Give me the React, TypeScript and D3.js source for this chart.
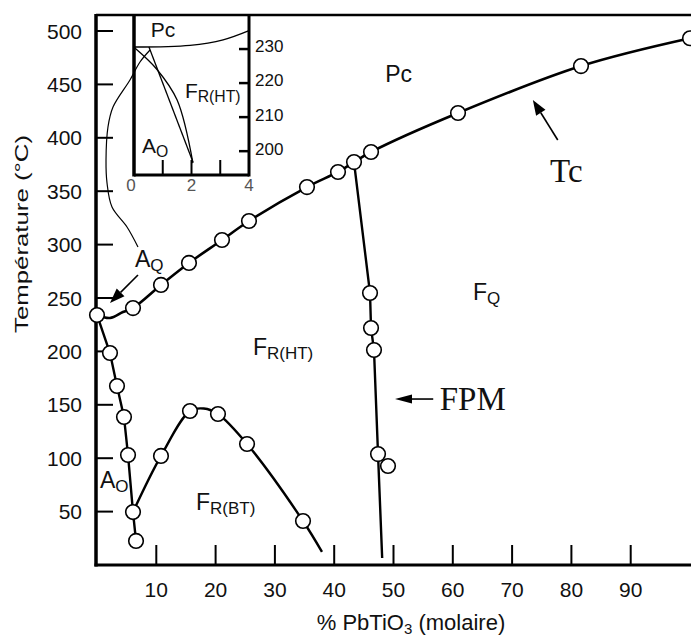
import React from 'react';
import * as d3 from 'd3';

type P = [number, number];

// ---- axis ticks ----
const xTicks = [10, 20, 30, 40, 50, 60, 70, 80, 90];
const yTicks = [50, 100, 150, 200, 250, 300, 350, 400, 450, 500];
const insetXLabels = [0, 2, 4];
const insetXMinor = [1, 2, 3];
const insetYTicks = [200, 210, 220, 230];

// ---- main data (% PbTiO3, °C) ----
const tcPoints: P[] = [
  [0, 234.1], [6.07, 240.6], [10.79, 262.2], [15.51, 282.8], [21.08, 304.3],
  [25.63, 322.1], [35.41, 353.9], [40.64, 368.0], [43.34, 377.3], [46.21, 386.7],
  [60.88, 423.2], [81.62, 467.2], [100, 493.2],
];
const tcLine: P[] = [
  [0, 234.1], [2.19, 231.3], [4.38, 236.9], [6.07, 240.6], [10.79, 262.2],
  [15.51, 282.8], [21.08, 304.3], [25.63, 322.1], [35.41, 353.9], [40.64, 368.0],
  [43.34, 377.3], [46.21, 386.7], [60.88, 423.2], [81.62, 467.2], [100, 493.2],
];
const fpmPoints: P[] = [
  [46.04, 254.7], [46.21, 221.9], [46.71, 201.3], [47.39, 103.9], [49.07, 92.7],
];
const fpmLine: P[] = [
  [43.34, 377.3], [46.04, 254.7], [46.21, 221.9], [46.71, 201.3], [47.39, 103.9], [48.09, 6.6],
];
const aoPoints: P[] = [
  [2.19, 198.5], [3.37, 167.6], [4.55, 138.6], [5.23, 103.0], [6.07, 49.6], [6.58, 22.5],
];
const aoLine: P[] = [
  [0, 234.1], [2.19, 198.5], [3.37, 167.6], [4.55, 138.6], [5.23, 103.0], [6.07, 49.6], [6.58, 22.5],
];
const btPoints: P[] = [
  [10.79, 102.1], [15.68, 144.2], [20.4, 141.4], [25.3, 113.3], [34.74, 41.2],
];
const btLine: P[] = [
  [6.07, 49.6], [10.79, 102.1], [15.68, 144.2], [18, 146.5], [20.4, 141.4],
  [25.3, 113.3], [34.74, 41.2], [37.94, 12.2],
];
const leaderCurve: P[] = [
  [8.94, 482.2], [7.25, 471], [5.56, 454.1], [2.7, 428.8], [1.85, 410.1], [1.52, 379.2],
  [1.69, 357.7], [2.53, 335.2], [5.06, 316.5], [6.91, 297.8],
];

// ---- inset data (% PbTiO3 0-4, °C 193-240) ----
const insetPc: P[] = [[0, 230.6], [1.95, 231.1], [3.1, 232.7], [4, 235.4]];
const insetLineA: P[] = [[0.03, 230.3], [0.8, 224.0], [1.5, 215.0], [2.05, 196.5]];
const insetLineB: P[] = [[0.52, 230.6], [2.05, 196.8]];

// ---- annotations ----
const arrows: { from: P; to: P }[] = [
  { from: [77.7, 397.9], to: [73.5, 435.4] },
  { from: [56.7, 155.4], to: [50.25, 155.4] },
  { from: [6.91, 271.5], to: [2.19, 245.3] },
];
const mainLabels: { at: P; main: string; sub?: string }[] = [
  { at: [48.6, 452.2], main: 'Pc' },
  { at: [63.4, 248.1], main: 'F', sub: 'Q' },
  { at: [26.3, 196.6], main: 'F', sub: 'R(HT)' },
  { at: [0.5, 72.1], main: 'A', sub: 'O' },
  { at: [16.7, 51.5], main: 'F', sub: 'R(BT)' },
  { at: [6.4, 279], main: 'A', sub: 'Q' },
];
const serifLabels: { at: P; text: string }[] = [
  { at: [76.4, 358.6], text: 'Tc' },
  { at: [57.8, 145.1], text: 'FPM' },
];
const insetLabels: { at: P; main: string; sub?: string; size: number }[] = [
  { at: [0.58, 233.4], main: 'Pc', size: 21 },
  { at: [1.77, 215.6], main: 'F', sub: 'R(HT)', size: 21 },
  { at: [0.28, 199.5], main: 'A', sub: 'O', size: 21 },
];

const SANS = '"Liberation Sans", Arial, Helvetica, sans-serif';
const SERIF = '"Liberation Serif", "Times New Roman", serif';

export default function App() {
  const W = 691, H = 639;
  const x = d3.scaleLinear().domain([0, 100]).range([97, 690]);
  const y = d3.scaleLinear().domain([0, 500]).range([565, 31]);
  const xi = d3.scaleLinear().domain([0, 4]).range([134, 249]);
  const yi = d3.scaleLinear().domain([193, 240]).range([175, 15]);

  const lin = d3.line<P>().x(d => x(d[0])).y(d => y(d[1]));
  const smooth = d3.line<P>().x(d => x(d[0])).y(d => y(d[1])).curve(d3.curveCatmullRom.alpha(0.5));
  const linI = d3.line<P>().x(d => xi(d[0])).y(d => yi(d[1]));
  const smoothI = d3.line<P>().x(d => xi(d[0])).y(d => yi(d[1])).curve(d3.curveCatmullRom.alpha(0.5));

  const top = 15;
  const x0 = x(0);
  const y0 = y(0);

  const arrowHead = (a: { from: P; to: P }, len = 16, wid = 11) => {
    const fx = x(a.from[0]), fy = y(a.from[1]);
    const tx = x(a.to[0]), ty = y(a.to[1]);
    const dx = tx - fx, dy = ty - fy;
    const L = Math.hypot(dx, dy);
    const ux = dx / L, uy = dy / L;
    const bx = tx - ux * len, by = ty - uy * len;
    const px = -uy * wid / 2, py = ux * wid / 2;
    return {
      shaft: `M${fx},${fy}L${bx},${by}`,
      head: `M${tx},${ty}L${bx + px},${by + py}L${bx - px},${by - py}Z`,
    };
  };

  const circles = [...tcPoints, ...fpmPoints, ...aoPoints, ...btPoints];

  return (
    <svg width={W} height={H} style={{ position: 'absolute', left: 0, top: 0, background: '#fff' }}
      fontFamily={SANS}>
      <rect x={0} y={0} width={W} height={H} fill="#fff" />

      {/* frame */}
      <line x1={x0 - 1} x2={W} y1={top} y2={top} stroke="#000" strokeWidth={2.5} />
      <line x1={x0 - 1} x2={x0 - 1} y1={top - 1} y2={y0 + 1.5} stroke="#000" strokeWidth={3.5} />
      <line x1={x0 - 2.5} x2={W} y1={y0} y2={y0} stroke="#000" strokeWidth={3} />

      {/* y ticks */}
      {yTicks.map(t => (
        <g key={'y' + t}>
          <line x1={x0} x2={x0 + 16} y1={y(t)} y2={y(t)} stroke="#000" strokeWidth={2} />
          <text x={82} y={y(t)} dy="0.36em" textAnchor="end" fontSize={21} fill="#111">{t}</text>
        </g>
      ))}
      {/* x ticks */}
      {xTicks.map(t => (
        <g key={'x' + t}>
          <line x1={x(t)} x2={x(t)} y1={y0} y2={y0 - 20} stroke="#000" strokeWidth={2} />
          <text x={x(t)} y={597} textAnchor="middle" fontSize={21} fill="#111">{t}</text>
        </g>
      ))}

      {/* axis titles */}
      <text x={411} y={630} textAnchor="middle" fontSize={22} fill="#111">
        % PbTiO<tspan fontSize={15} dy={4}>3</tspan><tspan dy={-4}> (molaire)</tspan>
      </text>
      <text transform="translate(28,234) rotate(-90)" textAnchor="middle" fontSize={19} fill="#111"
        textLength={198} lengthAdjust="spacingAndGlyphs">Température (°C)</text>

      {/* inset frame */}
      <line x1={xi(0)} x2={xi(0)} y1={top} y2={yi(193) + 1.5} stroke="#000" strokeWidth={3.5} />
      <line x1={xi(4)} x2={xi(4)} y1={top} y2={yi(193) + 1.5} stroke="#000" strokeWidth={3} />
      <line x1={xi(0)} x2={xi(4)} y1={yi(193)} y2={yi(193)} stroke="#000" strokeWidth={3} />
      {insetXMinor.map(t => (
        <line key={'im' + t} x1={xi(t)} x2={xi(t)} y1={yi(193)} y2={yi(193) - 15} stroke="#000" strokeWidth={2} />
      ))}
      {insetXLabels.map(t => (
        <text key={'il' + t} x={xi(t) - (t === 0 ? 3 : 0)} y={191} textAnchor="middle" fontSize={17} fill="#555">{t}</text>
      ))}
      {insetYTicks.map(t => (
        <g key={'iy' + t}>
          <line x1={xi(4) - 10} x2={xi(4)} y1={yi(t)} y2={yi(t)} stroke="#000" strokeWidth={2.5} />
          <text x={255} y={yi(t)} dy="0.2em" fontSize={17} fill="#111">{t}</text>
        </g>
      ))}
      <path d={smoothI(insetPc) || ''} fill="none" stroke="#000" strokeWidth={1.3} />
      <path d={smoothI(insetLineA) || ''} fill="none" stroke="#000" strokeWidth={1.3} />
      <path d={linI(insetLineB) || ''} fill="none" stroke="#000" strokeWidth={1.3} />
      {insetLabels.map((l, i) => (
        <text key={'ilb' + i} x={xi(l.at[0])} y={yi(l.at[1])} fontSize={l.size} fill="#111">
          {l.main}
          {l.sub && <tspan fontSize={l.size * 0.75} dy={4}>{l.sub}</tspan>}
        </text>
      ))}

      {/* leader curve */}
      <path d={smooth(leaderCurve) || ''} fill="none" stroke="#000" strokeWidth={1.2} />

      {/* phase boundaries */}
      <path d={smooth(tcLine) || ''} fill="none" stroke="#000" strokeWidth={2.6} />
      <path d={lin(fpmLine) || ''} fill="none" stroke="#000" strokeWidth={2.4} />
      <path d={lin(aoLine) || ''} fill="none" stroke="#000" strokeWidth={2.4} />
      <path d={smooth(btLine) || ''} fill="none" stroke="#000" strokeWidth={2.4} />

      {/* data circles */}
      {circles.map((p, i) => (
        <circle key={'c' + i} cx={x(p[0])} cy={y(p[1])} r={7.3} fill="#fff" stroke="#000" strokeWidth={1.6} />
      ))}

      {/* arrows */}
      {arrows.map((a, i) => {
        const h = arrowHead(a, i === 1 ? 17 : 15, i === 1 ? 9 : 11);
        return (
          <g key={'a' + i}>
            <path d={h.shaft} stroke="#000" strokeWidth={1.6} />
            <path d={h.head} fill="#000" />
          </g>
        );
      })}

      {/* labels */}
      {mainLabels.map((l, i) => (
        <text key={'ml' + i} x={x(l.at[0])} y={y(l.at[1])} fontSize={23} fill="#111">
          {l.main}
          {l.sub && <tspan fontSize={17} dy={4}>{l.sub}</tspan>}
        </text>
      ))}
      {serifLabels.map((l, i) => (
        <text key={'sl' + i} x={x(l.at[0])} y={y(l.at[1])} fontSize={33} fontFamily={SERIF} fill="#111">{l.text}</text>
      ))}
    </svg>
  );
}
